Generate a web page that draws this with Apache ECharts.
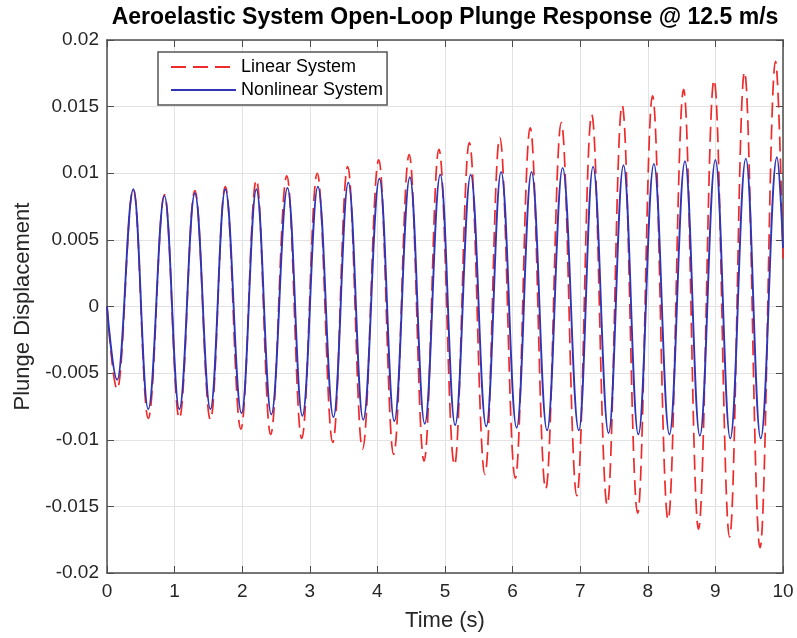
<!DOCTYPE html>
<html>
<head>
<meta charset="utf-8">
<script src="https://cdn.jsdelivr.net/npm/echarts@6/dist/echarts.min.js"></script>
<style>
html,body{margin:0;padding:0;background:#fff;}
#chart{width:797px;height:638px;}
</style>
</head>
<body>
<div id="chart"></div>
<script>
// Extrema (and end points)
var timeLinear = [0, 0.15, 0.39, 0.61, 0.85, 1.07, 1.30, 1.53, 1.75, 1.98, 2.21, 2.42, 2.66, 2.88, 3.11, 3.34, 3.56, 3.78, 4.02, 4.24, 4.47, 4.69, 4.91, 5.14, 5.36, 5.59, 5.81, 6.04, 6.26, 6.49, 6.72, 6.95, 7.17, 7.40, 7.62, 7.85, 8.07, 8.30, 8.53, 8.75, 8.98, 9.21, 9.43, 9.66, 9.89, 10];
var linearValues = [0, -0.0062, 0.0088, -0.0084, 0.0084, -0.0084, 0.0087, -0.0085, 0.0090, -0.0092, 0.0095, -0.0096, 0.0098, -0.0099, 0.0100, -0.0102, 0.0105, -0.0107, 0.0110, -0.0111, 0.0114, -0.0116, 0.0118, -0.0119, 0.0123, -0.0126, 0.0127, -0.0129, 0.0134, -0.0137, 0.0138, -0.0142, 0.0144, -0.0149, 0.0151, -0.0155, 0.0158, -0.0160, 0.0163, -0.0167, 0.0170, -0.0173, 0.0176, -0.0181, 0.0184, 0.0036];
var timeNonlinear = [0, 0.15, 0.39, 0.61, 0.85, 1.07, 1.30, 1.53, 1.75, 1.99, 2.21, 2.43, 2.67, 2.89, 3.12, 3.35, 3.57, 3.79, 4.03, 4.25, 4.48, 4.70, 4.93, 5.15, 5.38, 5.61, 5.83, 6.06, 6.28, 6.51, 6.74, 6.98, 7.19, 7.42, 7.64, 7.86, 8.09, 8.32, 8.55, 8.77, 9.00, 9.22, 9.45, 9.67, 9.91, 10];
var nonlinearValues = [0, -0.0055, 0.0088, -0.0077, 0.0083, -0.0077, 0.0085, -0.0077, 0.0088, -0.0080, 0.0088, -0.0081, 0.0089, -0.0082, 0.0090, -0.0083, 0.0093, -0.0085, 0.0096, -0.0086, 0.0097, -0.0088, 0.0099, -0.0089, 0.0099, -0.0090, 0.0101, -0.0091, 0.0101, -0.0093, 0.0104, -0.0093, 0.0105, -0.0095, 0.0106, -0.0096, 0.0107, -0.0096, 0.0109, -0.0097, 0.0110, -0.0099, 0.0111, -0.0099, 0.0112, 0.0044];
var seriesNames = ['Linear System', 'Nonlinear System'];
var titleText = 'Aeroelastic System Open-Loop Plunge Response @ 12.5 m/s';
var xAxisName = 'Time (s)';
var yAxisName = 'Plunge Displacement';

function zip(t, v) { return t.map(function (x, i) { return [x, v[i]]; }); }

var FONT = "'Liberation Sans', Arial, sans-serif";
var chart = echarts.init(document.getElementById('chart'), null, {renderer: 'canvas'});
var frameColor = '#4d4d4d';
var gridColor = '#e3e3e3';
var labelColor = '#262626';

chart.setOption({
  animation: false,
  backgroundColor: '#fff',
  grid: {left: 107, right: 14, top: 40, bottom: 65},
  graphic: [{
    type: 'text',
    style: {
      x: 445, y: 18, text: titleText, align: 'center', verticalAlign: 'middle',
      font: 'bold 23px ' + FONT, fill: '#000'
    }
  }],
  legend: {
    orient: 'vertical', left: 158, top: 52,
    padding: [6, 4, 6, 12],
    itemWidth: 65, itemHeight: 16, itemGap: 5,
    borderColor: '#555', borderWidth: 1.5, backgroundColor: '#fff',
    itemStyle: {opacity: 0},
    textStyle: {fontFamily: FONT, fontSize: 18, color: '#000'},
    data: seriesNames
  },
  xAxis: [{
    type: 'value', min: 0, max: 10, interval: 1,
    name: xAxisName, nameLocation: 'middle', nameGap: 37,
    nameTextStyle: {fontFamily: FONT, fontSize: 22, color: labelColor},
    axisLine: {show: true, onZero: false, lineStyle: {color: frameColor, width: 1.5}},
    axisTick: {show: true, inside: true, length: 7, lineStyle: {color: frameColor}},
    axisLabel: {fontFamily: FONT, fontSize: 19, color: labelColor, margin: 9},
    splitLine: {show: true, lineStyle: {color: gridColor, width: 1}}
  }, {
    type: 'value', min: 0, max: 10, interval: 1, position: 'top',
    axisLine: {show: true, onZero: false, lineStyle: {color: frameColor, width: 1.5}},
    axisTick: {show: true, inside: true, length: 7, lineStyle: {color: frameColor}},
    axisLabel: {show: false}, splitLine: {show: false}
  }],
  yAxis: [{
    type: 'value', min: -0.02, max: 0.02, interval: 0.005,
    name: yAxisName, nameLocation: 'middle', nameGap: 72,
    nameTextStyle: {fontFamily: FONT, fontSize: 22, color: labelColor},
    axisLine: {show: true, onZero: false, lineStyle: {color: frameColor, width: 1.5}},
    axisTick: {show: true, inside: true, length: 7, lineStyle: {color: frameColor}},
    axisLabel: {fontFamily: FONT, fontSize: 19, color: labelColor, margin: 8,
      formatter: function (v) { return String(+v.toFixed(3)); }},
    splitLine: {show: true, lineStyle: {color: gridColor, width: 1}}
  }, {
    type: 'value', min: -0.02, max: 0.02, interval: 0.005, position: 'right',
    axisLine: {show: true, onZero: false, lineStyle: {color: frameColor, width: 1.5}},
    axisTick: {show: true, inside: true, length: 7, lineStyle: {color: frameColor}},
    axisLabel: {show: false}, splitLine: {show: false}
  }],
  series: [{
    name: seriesNames[0], type: 'line', data: zip(timeLinear, linearValues),
    smooth: 0.4, smoothMonotone: 'x', showSymbol: false, symbol: 'none',
    lineStyle: {color: '#ee2a2a', width: 1.7, type: [15, 7]},
    itemStyle: {color: '#ee2a2a'}
  }, {
    name: seriesNames[1], type: 'line', data: zip(timeNonlinear, nonlinearValues),
    smooth: 0.4, smoothMonotone: 'x', showSymbol: false, symbol: 'none',
    lineStyle: {color: '#2f35b5', width: 1.9},
    itemStyle: {color: '#2f35b5'}
  }]
});
</script>
</body>
</html>
